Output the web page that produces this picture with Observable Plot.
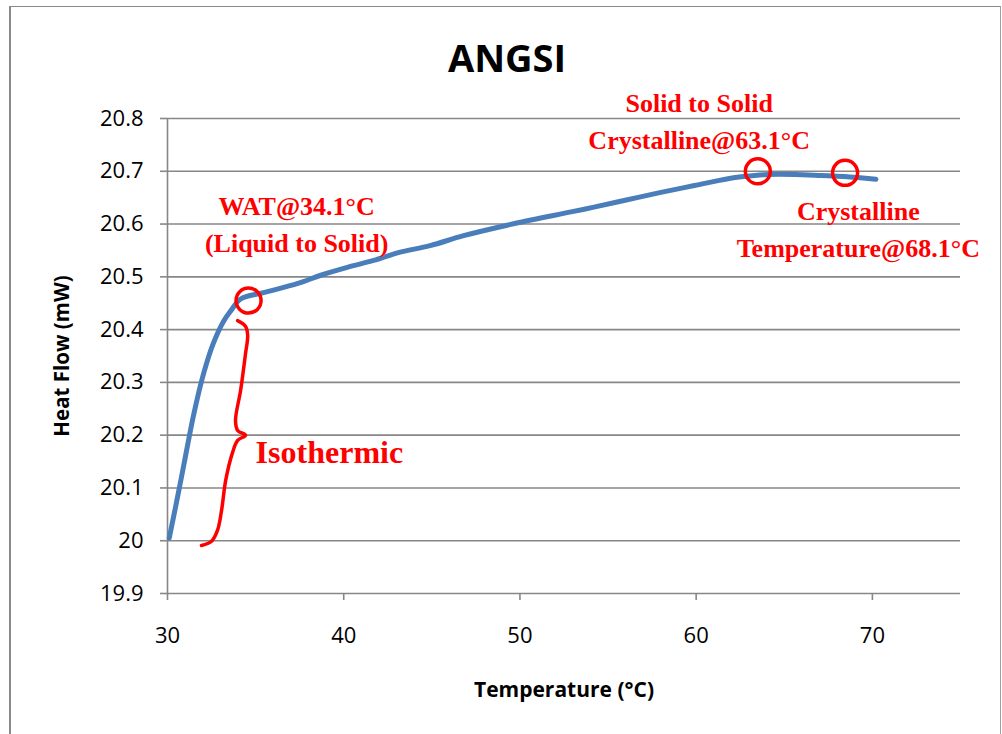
<!DOCTYPE html>
<html>
<head>
<meta charset="utf-8">
<script src="https://cdn.jsdelivr.net/npm/d3@7"></script>
<script src="https://cdn.jsdelivr.net/npm/@observablehq/plot@0.6"></script>
<style>
  html, body { margin: 0; padding: 0; background: #fff; }
  #wrap { position: relative; width: 1002px; height: 734px; overflow: hidden; }
  #frame { position: absolute; left: 9px; top: 6px; width: 989px; height: 760px;
           border-left: 2px solid #8a8a8a; border-top: 1.5px solid #8a8a8a; border-right: 1px solid #a0a0a0;
           pointer-events: none; }
</style>
</head>
<body>
<div id="wrap"><div id="frame"></div></div>
<script>
// Heat flow curve
const temperature = [30.1, 30.5, 30.9, 31.5, 32.05, 32.6, 33.2, 33.6, 34.15, 35.45, 37.4, 38.7, 40.2, 41.7, 43.1, 44.9, 46.8, 49.7, 52.9, 54.2, 56.1, 58.0, 59.9, 61.8, 62.7, 64.1, 65.6, 67.1, 68.4, 70.2];
const heatFlow    = [20.005, 20.071, 20.139, 20.241, 20.317, 20.374, 20.417, 20.436, 20.458, 20.470, 20.4875, 20.503, 20.518, 20.531, 20.546, 20.559, 20.578, 20.601, 20.623, 20.632, 20.646, 20.660, 20.673, 20.686, 20.690, 20.694, 20.694, 20.692, 20.690, 20.685];

// axis ticks
const xTicks = [30, 40, 50, 60, 70];
const yTicks = [19.9, 20, 20.1, 20.2, 20.3, 20.4, 20.5, 20.6, 20.7, 20.8];
const xDomain = [30, 75];
const yDomain = [19.9, 20.8];

// highlighted points (circles)
const markTemp = [34.6, 63.5, 68.45];
const markFlow = [20.455, 20.700, 20.697];

// isothermic brace
const braceTemp = [33.98, 34.43, 34.55, 34.43, 34.15, 33.86, 33.98, 34.43, 33.98, 33.69, 33.30, 33.07, 32.84, 32.50, 31.93];
const braceFlow = [20.417, 20.406, 20.389, 20.355, 20.285, 20.228, 20.209, 20.200, 20.190, 20.167, 20.114, 20.058, 20.020, 19.999, 19.991];

// annotation labels
const noteText = ["WAT@34.1°C\n(Liquid to Solid)", "Solid to Solid\nCrystalline@63.1°C", "Crystalline\nTemperature@68.1°C"];
const noteTemp = [37.33, 60.17, 69.2];
const noteFlow = [20.548, 20.743, 20.537];
const isoText = ["Isothermic"];
const isoTemp = [35.0];
const isoFlow = [20.147];

const curve = temperature.map((t, i) => ({t, h: heatFlow[i]}));
const marks = markTemp.map((t, i) => ({t, h: markFlow[i]}));
const brace = braceTemp.map((t, i) => ({t, h: braceFlow[i]}));
const notes = noteText.map((s, i) => ({s, t: noteTemp[i], h: noteFlow[i]}));
const iso = isoText.map((s, i) => ({s, t: isoTemp[i], h: isoFlow[i]}));

const grid = "#878787";
const serif = "'Liberation Serif', 'Times New Roman', serif";

const chart = Plot.plot({
  width: 1002,
  height: 734,
  marginLeft: 167,
  marginRight: 42,
  marginTop: 118,
  marginBottom: 141,
  style: {fontFamily: "'Open Sans', sans-serif", fontSize: "22px", color: "#000", background: "transparent"},
  x: {domain: xDomain, label: null},
  y: {domain: yDomain, label: null},
  marks: [
    Plot.gridY(yTicks, {stroke: grid, strokeOpacity: 1, strokeWidth: 1.6}),
    Plot.ruleX([xDomain[0]], {stroke: grid, strokeWidth: 1.6}),
    Plot.axisY(yTicks, {tickSize: 7, tickPadding: 17, stroke: grid, strokeWidth: 1.6, strokeOpacity: 1, fill: "#000", tickFormat: d => String(+d.toFixed(1)), fontSize: 22}),
    Plot.axisX(xTicks, {tickSize: 7, tickPadding: 27, stroke: grid, strokeWidth: 1.6, strokeOpacity: 1, fill: "#000", tickFormat: d => String(d), fontSize: 22}),
    Plot.line(curve, {x: "t", y: "h", stroke: "#4a7ebb", strokeWidth: 5, curve: "catmull-rom"}),
    Plot.line(brace, {x: "t", y: "h", stroke: "#ff0000", strokeWidth: 3.5, curve: "catmull-rom"}),
    Plot.dot(marks, {x: "t", y: "h", r: 12.5, stroke: "#ff0000", strokeWidth: 3.5, fill: "none"}),
    Plot.text(notes, {x: "t", y: "h", text: "s", fill: "#ff0000", fontFamily: serif, fontWeight: "bold", fontSize: 26, lineHeight: 1.42, lineAnchor: "bottom", textAnchor: "middle"}),
    Plot.text(iso, {x: "t", y: "h", text: "s", fill: "#ff0000", fontFamily: serif, fontWeight: "bold", fontSize: 32, lineAnchor: "bottom", textAnchor: "start"}),
    Plot.text(["ANGSI"], {frameAnchor: "top", dx: -57, dy: -47, lineAnchor: "bottom", textAnchor: "middle", fontSize: 38, fontWeight: "bold", fill: "#000"}),
    Plot.text(["Heat Flow (mW)"], {frameAnchor: "left", dx: -105, rotate: -90, lineAnchor: "middle", textAnchor: "middle", fontSize: 20.5, fontWeight: "bold", fill: "#000"}),
    Plot.text(["Temperature (°C)"], {frameAnchor: "bottom", dy: 103, lineAnchor: "bottom", textAnchor: "middle", fontSize: 21, fontWeight: "bold", fill: "#000"})
  ]
});
document.getElementById("wrap").insertBefore(chart, document.getElementById("frame"));
</script>
</body>
</html>
